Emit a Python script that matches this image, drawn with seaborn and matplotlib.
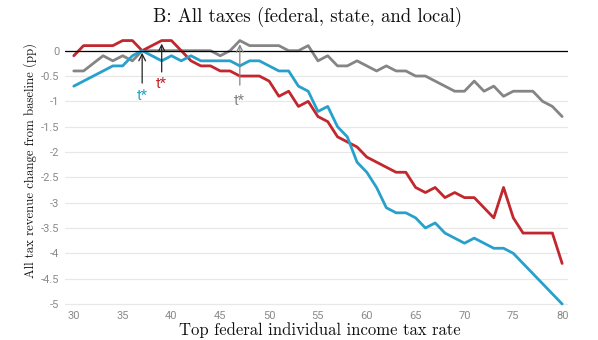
import numpy as np
import pandas as pd
import matplotlib
matplotlib.use("Agg")
import matplotlib.pyplot as plt
import seaborn as sns

rates = list(range(30, 81))

gray_vals = [-0.4, -0.4, -0.25, -0.1, -0.2, -0.1, -0.2, 0, 0, 0,
             0, 0, 0, 0, 0, -0.1, 0, 0.2, 0.1, 0.1,
             0.1, 0.1, 0, 0, 0.1, -0.2, -0.1, -0.3, -0.3, -0.2,
             -0.3, -0.4, -0.3, -0.4, -0.4, -0.5, -0.5, -0.6, -0.7, -0.8,
             -0.8, -0.6, -0.8, -0.7, -0.9, -0.8, -0.8, -0.8, -1.0, -1.1,
             -1.3]

red_vals = [-0.1, 0.1, 0.1, 0.1, 0.1, 0.2, 0.2, 0, 0.1, 0.2,
            0.2, 0, -0.2, -0.3, -0.3, -0.4, -0.4, -0.5, -0.5, -0.5,
            -0.6, -0.9, -0.8, -1.1, -1.0, -1.3, -1.4, -1.7, -1.8, -1.9,
            -2.1, -2.2, -2.3, -2.4, -2.4, -2.7, -2.8, -2.7, -2.9, -2.8,
            -2.9, -2.9, -3.1, -3.3, -2.7, -3.3, -3.6, -3.6, -3.6, -3.6,
            -4.2]

blue_vals = [-0.7, -0.6, -0.5, -0.4, -0.3, -0.3, -0.1, 0, -0.1, -0.2,
             -0.1, -0.2, -0.1, -0.2, -0.2, -0.2, -0.2, -0.3, -0.2, -0.2,
             -0.3, -0.4, -0.4, -0.7, -0.8, -1.2, -1.1, -1.5, -1.7, -2.2,
             -2.4, -2.7, -3.1, -3.2, -3.2, -3.3, -3.5, -3.4, -3.6, -3.7,
             -3.8, -3.7, -3.8, -3.9, -3.9, -4.0, -4.2, -4.4, -4.6, -4.8,
             -5.0]

series_names = ["gray", "red", "blue"]
series_colors = {"gray": "#858585", "red": "#c1272d", "blue": "#27a1cc"}

yticks = [0, -0.5, -1, -1.5, -2, -2.5, -3, -3.5, -4, -4.5, -5]
xticks = [30, 35, 40, 45, 50, 55, 60, 65, 70, 75, 80]

# t* annotations: (series, x, arrow tip, arrow tail, text y)
tstar = [("blue", 37, -0.04, -0.64, -0.9),
         ("red", 39, 0.14, -0.42, -0.66),
         ("gray", 47, 0.13, -0.68, -1.0)]
arrow_colors = {"blue": "#222222", "red": "#222222", "gray": "#858585"}

df = pd.DataFrame({
    "rate": rates * 3,
    "value": gray_vals + red_vals + blue_vals,
    "series": ["gray"] * len(rates) + ["red"] * len(rates) + ["blue"] * len(rates),
})

sns.set_theme(style="white")
plt.rcParams["font.family"] = ["Roboto", "DejaVu Sans"]

fig = plt.figure(figsize=(5.98, 3.40), dpi=100)
ax = fig.add_axes([65 / 598, 1 - 305.5 / 340, (568 - 65) / 598, (305.5 - 35.5) / 340])

sns.lineplot(data=df, x="rate", y="value", hue="series", hue_order=series_names,
             palette=series_colors, linewidth=2.0, legend=False, ax=ax, zorder=3)

ax.axhline(0, color="black", lw=0.9, zorder=6)

ax.set_xlim(29.1, 80.6)
ax.set_ylim(-5.03, 0.3)
ax.set_yticks(yticks)
ax.set_yticklabels([f"{v:g}" for v in yticks])
ax.set_xticks(xticks)
ax.set_xticklabels([str(v) for v in xticks])
ax.yaxis.grid(True, color="#e8e8e8", lw=0.9)
ax.xaxis.grid(False)
for s in ax.spines.values():
    s.set_visible(False)
ax.tick_params(length=0, colors="#8a8a8a", labelsize=8)
ax.tick_params(axis="y", pad=4)
ax.tick_params(axis="x", pad=4)
ax.set_xlabel("")
ax.set_ylabel("")

for name, x, tip, tail, ty in tstar:
    ax.annotate("", xy=(x, tip), xytext=(x, tail),
                arrowprops=dict(arrowstyle="->", color=arrow_colors[name], lw=0.9,
                                shrinkA=0, shrinkB=0), zorder=7)
    ax.text(x, ty, "t*", color=series_colors[name], ha="center", va="center",
            fontsize=10.5, zorder=7)

fig.text(308 / 598, 1 - 17 / 340, "B: All taxes (federal, state, and local)",
         family="cmr10", fontsize=13.5, ha="center", va="center", color="#111111")
fig.text(320 / 598, 1 - 330 / 340, "Top federal individual income tax rate",
         family="cmr10", fontsize=12, ha="center", va="center", color="#111111")
fig.text(30 / 598, 1 - 160 / 340, "All tax revenue change from baseline (pp)",
         family="cmr10", fontsize=9.2, rotation=90, ha="center", va="center", color="#111111")

fig.savefig("out.png", dpi=100)
